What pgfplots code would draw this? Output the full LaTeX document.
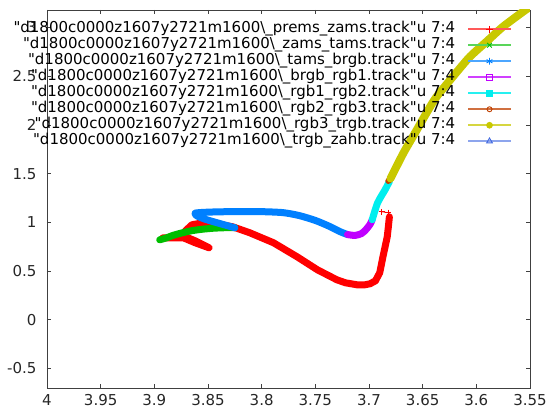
\documentclass[border=0pt]{standalone}
\usepackage{pgfplots}
\pgfplotsset{compat=1.18}
\usepackage{fontspec}
\setmainfont{DejaVu Sans}[Ligatures=TeXOff]
\definecolor{gred}{RGB}{255,0,0}
\definecolor{ggreen}{RGB}{0,190,0}
\definecolor{gblue}{RGB}{0,128,255}
\definecolor{gpurple}{RGB}{192,0,255}
\definecolor{gcyan}{RGB}{0,238,238}
\definecolor{gbrown}{RGB}{192,64,0}
\definecolor{gyellow}{RGB}{200,200,0}
\definecolor{groyal}{RGB}{65,105,225}
\newcommand{\trk}[1]{"d1800c0000z1607y2721m1600\textbackslash\_#1.track"u 7:4}
\begin{document}
\begin{tikzpicture}
\useasboundingbox (-47bp,-26bp) rectangle (500bp,388bp);
\begin{axis}[
  at={(0,0)}, anchor=south west,
  scale only axis, width=483bp, height=378bp,
  x dir=reverse, xmin=3.55, xmax=4, ymin=-0.7, ymax=3.18,
  xtick={4,3.95,3.9,3.85,3.8,3.75,3.7,3.65,3.6,3.55},
  ytick={-0.5,0,0.5,1,1.5,2,2.5,3},
  tick align=inside, major tick length=4bp,
  axis line style={black!75, line width=0.8bp},
  tick style={black!75, line width=0.8bp},
  /pgf/number format/assume math mode=true,
  /pgf/number format/.cd, fixed, precision=2, /pgfplots/.cd,
  every tick label/.append style={font=\fontsize{15bp}{18bp}\selectfont, text=black!85},
  xticklabel style={yshift=-3bp},
  yticklabel style={xshift=-7bp},
  legend plot pos=right,
  legend cell align=right,
  legend image code/.code={\draw[mark repeat=2,mark phase=2,#1] plot coordinates {(0bp,0bp) (21.5bp,0bp) (43bp,0bp)};},
  legend style={draw=none, fill=none, at={(0.969,0.976)}, anchor=north east,
    font=\fontsize{15bp}{18bp}\selectfont, column sep=12bp, row sep=0bp,
    nodes={inner sep=0pt, text height=11bp, text depth=5bp}},
]
% legend images
\addlegendimage{gred!65, line width=1.6bp, mark=+, mark size=3.3bp, mark options={gred, solid, line width=0.9bp}}
\addlegendentry{\trk{prems\_zams}}
\addlegendimage{ggreen!65, line width=1.6bp, mark=x, mark size=3.3bp, mark options={ggreen, solid, line width=0.9bp}}
\addlegendentry{\trk{zams\_tams}}
\addlegendimage{gblue!70, line width=1.6bp, mark=asterisk, mark size=3.3bp, mark options={gblue, solid, line width=0.9bp}}
\addlegendentry{\trk{tams\_brgb}}
\addlegendimage{gpurple!75, line width=1.6bp, mark=square, mark size=2.8bp, mark options={gpurple, solid, line width=0.9bp}}
\addlegendentry{\trk{brgb\_rgb1}}
\addlegendimage{gcyan!85, line width=1.6bp, mark=square*, mark size=2.8bp, mark options={gcyan, solid}}
\addlegendentry{\trk{rgb1\_rgb2}}
\addlegendimage{gbrown!75, line width=1.6bp, mark=o, mark size=2.5bp, mark options={gbrown, solid, line width=0.9bp}}
\addlegendentry{\trk{rgb2\_rgb3}}
\addlegendimage{gyellow!75, line width=1.6bp, mark=*, mark size=2.5bp, mark options={gyellow, solid}}
\addlegendentry{\trk{rgb3\_trgb}}
\addlegendimage{groyal!60, line width=1.6bp, mark=triangle, mark size=3.3bp, mark options={groyal, solid, line width=0.9bp}}
\addlegendentry{\trk{trgb\_zahb}}
% red: pre-MS start (sparse)
\addplot[forget plot, gred, line width=0.8bp, mark=+, mark size=3bp] coordinates {
(3.688,1.109) (3.682,1.099) (3.681,1.057)};
% red: prems_zams
\addplot[forget plot, gred, line width=7bp, line join=round, line cap=round] coordinates {
(3.681,1.057) (3.682,0.95) (3.683,0.852) (3.687,0.647) (3.690,0.483) (3.694,0.400)
(3.699,0.370) (3.704,0.359) (3.711,0.359) (3.722,0.380) (3.730,0.411) (3.748,0.513)
(3.767,0.647) (3.789,0.791) (3.811,0.893) (3.827,0.955) (3.843,0.986) (3.855,0.996)
(3.865,0.975) (3.871,0.914) (3.873,0.862) (3.862,0.811) (3.849,0.739) (3.862,0.791)
(3.873,0.842) (3.885,0.842) (3.892,0.842)};
% green: zams_tams
\addplot[forget plot, ggreen, line width=7bp, line join=round, line cap=round, smooth, tension=0.4] coordinates {
(3.895,0.821) (3.889,0.84) (3.883,0.865) (3.875,0.89) (3.865,0.915) (3.855,0.93)
(3.845,0.94) (3.835,0.945) (3.825,0.945)};
% blue: tams_brgb
\addplot[forget plot, gblue, line width=7bp, line join=round, line cap=round, smooth, tension=0.4] coordinates {
(3.825,0.945) (3.838,0.985) (3.852,1.03) (3.860,1.065) (3.862,1.095) (3.850,1.105)
(3.830,1.11) (3.80,1.11) (3.78,1.10) (3.765,1.07) (3.75,1.02) (3.737,0.96)
(3.727,0.905) (3.72,0.875)};
% purple: brgb_rgb1
\addplot[forget plot, gpurple, line width=7bp, line join=round, line cap=round, smooth, tension=0.4] coordinates {
(3.72,0.875) (3.713,0.866) (3.707,0.885) (3.703,0.924) (3.699,0.98) (3.697,1.027)};
% cyan: rgb1_rgb2
\addplot[forget plot, gcyan, line width=7bp, line join=round, line cap=round, smooth, tension=0.4] coordinates {
(3.697,1.027) (3.692,1.20) (3.685,1.335) (3.681,1.42)};
% brown: rgb2_rgb3
\addplot[forget plot, gbrown, line width=6bp, line join=round, line cap=round] coordinates {
(3.682,1.425) (3.680,1.445)};
% yellow: rgb3_trgb
\addplot[forget plot, gyellow, line width=8bp, line join=round, line cap=round, smooth, tension=0.4] coordinates {
(3.680,1.45) (3.668,1.71) (3.657,1.92) (3.645,2.15) (3.637,2.29) (3.62,2.52)
(3.606,2.70) (3.59,2.86) (3.575,3.01) (3.553,3.19) (3.548,3.22)};
\end{axis}
\end{tikzpicture}
\end{document}
